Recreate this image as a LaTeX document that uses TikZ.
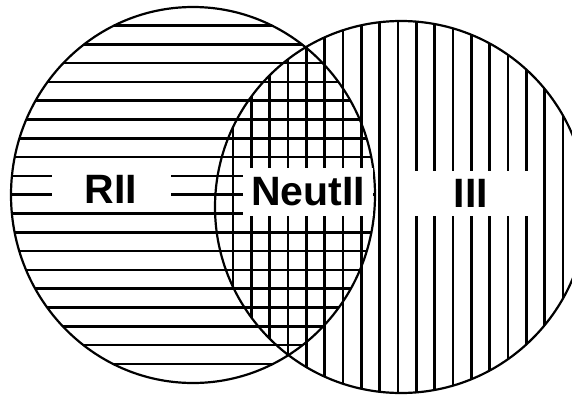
\documentclass[tikz,border=0pt]{standalone}
\usepackage{fontspec}
\setmainfont{Liberation Sans}
\tikzset{
  hatch/.style={line width=2.6pt},
  rim/.style={line width=2.2pt},
  tag/.style={fill=white,inner sep=0pt,font=\fontsize{41}{41}\selectfont\bfseries}
}

\begin{document}
\begin{tikzpicture}[x=1pt,y=-1pt]
\useasboundingbox (0,0) rectangle (572,399);
\clip (0,0) rectangle (572,399);
% left set: horizontal lines
\begin{scope}
\clip (193,195) ellipse [x radius=182, y radius=188];
\foreach \k in {0,...,18} \draw[hatch] (0,{25.5+18.8*\k}) -- (400,{25.5+18.8*\k});
\end{scope}
% right set: vertical lines
\begin{scope}
\clip (401,207) circle [radius=186];
\foreach \k in {0,...,18} \draw[hatch] ({233+18.33*\k},0) -- ({233+18.33*\k},399);
\end{scope}
\draw[rim] (193,195) ellipse [x radius=182, y radius=188];
\draw[rim] (401,207) circle [radius=186];
% labels
\node[tag,minimum width=119pt,minimum height=40pt] (rii) at (111,189) {RII};
\node[tag,minimum width=130pt,minimum height=48pt] (neut) at (308,192) {NeutII};
\node[tag,minimum width=126pt,minimum height=45pt] (iii) at (471,193) {III};
\end{tikzpicture}
\end{document}
